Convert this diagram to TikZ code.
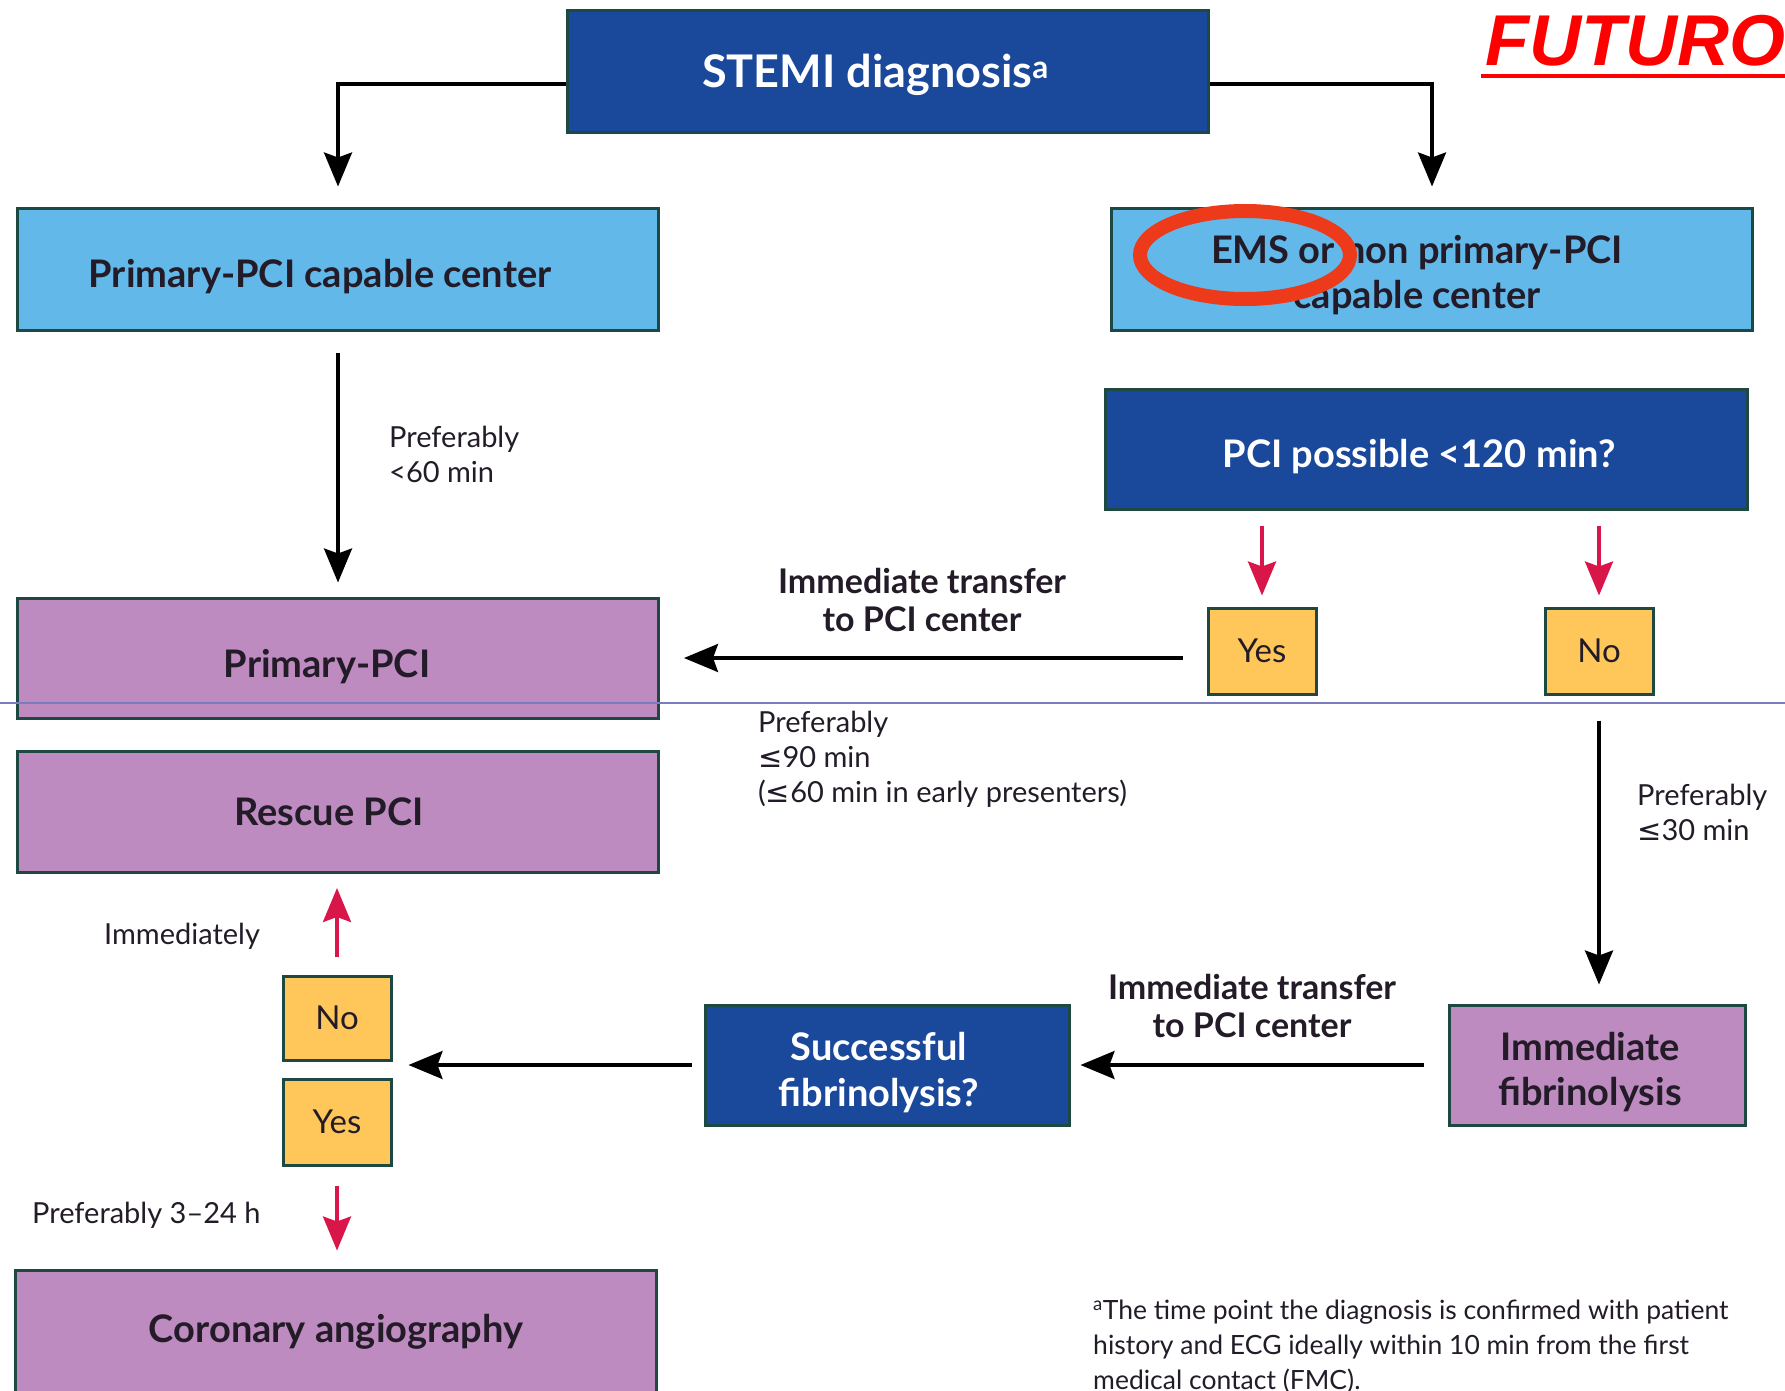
\documentclass[tikz,border=0pt]{standalone}
\usepackage{fontspec}
\setmainfont{Lato}
\newfontfamily\symfont{DejaVu Sans}
\newfontfamily\futfont{Liberation Sans}
\usetikzlibrary{arrows.meta,calc}
\definecolor{dblue}{RGB}{26,72,154}
\definecolor{lblue}{RGB}{98,184,232}
\definecolor{purp}{RGB}{190,139,192}
\definecolor{yel}{RGB}{255,198,90}
\definecolor{bord}{RGB}{30,72,66}
\definecolor{crim}{RGB}{216,22,74}
\definecolor{ellred}{RGB}{236,58,26}
\definecolor{txt}{RGB}{35,28,40}
\definecolor{thinl}{RGB}{123,123,192}
\newcommand{\lee}{{\symfont\char"2264}}
% \sh{extra right space}{lowering}{text}
\newcommand{\sh}[3]{\raisebox{-#2}[\height][\depth]{#3}\hspace*{#1}}
\begin{document}
\begin{tikzpicture}[x=1pt,y=-1pt,
  box/.style={draw=bord,line width=3pt,inner sep=0pt,align=center,text=txt,font=\bfseries\fontsize{38}{45.5}\selectfont},
  dbox/.style={box,fill=dblue,text=white},
  lbox/.style={box,fill=lblue},
  pbox/.style={box,fill=purp},
  ybox/.style={box,fill=yel,font=\fontsize{33}{40}\selectfont,minimum width=108pt,minimum height=86pt},
  arr/.style={line width=3.5pt,-{Stealth[length=34pt,width=28pt,inset=5pt]}},
  rarr/.style={arr,draw=crim},
  lbl/.style={align=left,text=txt,inner sep=0pt,font=\fontsize{29}{35}\selectfont},
  tlbl/.style={align=center,text=txt,inner sep=0pt,font=\bfseries\fontsize{34}{37.5}\selectfont}]
\useasboundingbox (0,0) rectangle (1785,1390);
\clip (0,0) rectangle (1785,1390);
% boxes
\node[dbox,minimum width=641pt,minimum height=122pt,font=\bfseries\fontsize{45}{50}\selectfont] (stemi) at (888,71) {\sh{25pt}{3.5pt}{STEMI diagnosis\textsuperscript{a}}};
\node[lbox,minimum width=641pt,minimum height=122pt] (ppcc) at (338,269) {\sh{36pt}{8pt}{Primary-PCI capable center}};
\node[lbox,minimum width=641pt,minimum height=122pt] (ems) at (1432,269) {\sh{30pt}{6pt}{EMS or non primary-PCI}\\\sh{30pt}{6pt}{capable center}};
\node[dbox,minimum width=642pt,minimum height=120pt] (pcip) at (1426,449) {\sh{14pt}{8pt}{PCI possible <120 min?}};
\node[ybox] (yesR) at (1262,651) {Yes};
\node[ybox] (noR) at (1599,651) {No};
\node[pbox,minimum width=641pt,minimum height=120pt] (ppci) at (338,658) {\sh{22pt}{9pt}{Primary-PCI}};
\node[pbox,minimum width=641pt,minimum height=121pt] (rescue) at (338,812) {\sh{18pt}{0pt}{Rescue PCI}};
\node[ybox,minimum height=84pt] (noL) at (337,1018) {No};
\node[ybox] (yesL) at (337,1122) {Yes};
\node[dbox,minimum width=364pt,minimum height=120pt] (succ) at (887,1065) {\sh{16pt}{7.5pt}{Successful}\\\sh{16pt}{7.5pt}{fibrinolysis?}};
\node[pbox,minimum width=296pt,minimum height=120pt] (immf) at (1597,1065) {\sh{14pt}{7pt}{Immediate}\\\sh{14pt}{7pt}{fibrinolysis}};
\node[pbox,minimum width=641pt,minimum height=130pt] (cor) at (336,1335) {\sh{0pt}{-3.5pt}{Coronary angiography}};
\coordinate (ny) at ($(noL.east)!0.5!(yesL.east)$);
% connectors
\draw[arr] ([yshift=-13pt]stemi.west) -| ([yshift=20pt]ppcc.north);
\draw[arr] ([yshift=-13pt]stemi.east) -| ([yshift=20pt]ems.north);
\draw[arr,shorten <=21pt,shorten >=14pt] (ppcc) -- (ppci);
\draw[rarr,shorten <=15pt,shorten >=11pt] (yesR.north |- pcip.south) -- (yesR.north);
\draw[rarr,shorten <=15pt,shorten >=11pt] (noR.north |- pcip.south) -- (noR.north);
\draw[arr,shorten <=24pt,shorten >=24pt] (yesR.west |- ppci.east) -- (ppci.east);
\draw[arr,shorten <=25pt,shorten >=19pt] (noR.south) -- (noR.south |- immf.north);
\draw[arr,shorten <=24pt,shorten >=10pt] (immf.west) -- (immf.west -| succ.east);
\draw[arr,shorten <=12pt,shorten >=16pt] (succ.west) -- (succ.west -| ny);
\draw[rarr,shorten <=18pt,shorten >=14pt] (noL.north) -- (noL.north |- rescue.south);
\draw[rarr,shorten <=19pt,shorten >=18pt] (yesL.south) -- (yesL.south |- cor.north);
% labels
\node[lbl,anchor=west] (l60) at (389,454) {Preferably\\<60 min};
\node[tlbl] (t1) at (922,600) {Immediate transfer\\to PCI center};
\node[lbl,anchor=west] (l90) at (758,759) {Preferably\\\lee90 min\\(\lee60 min in early presenters)};
\node[lbl,anchor=west] (l30) at (1637,812) {Preferably\\\lee30 min};
\node[tlbl] (t2) at (1252,1006) {Immediate transfer\\to PCI center};
\node[lbl,anchor=west] (limm) at (104,936) {Immediately};
\node[lbl,anchor=west] (l324) at (32,1215) {Preferably 3--24 h};
\node[lbl,anchor=west,font=\fontsize{26.5}{35}\selectfont] (foot) at (1093,1347) {\textsuperscript{a}The time point the diagnosis is confirmed with patient\\history and ECG ideally within 10 min from the first\\medical contact (FMC).};
% annotation overlays
\draw[thinl,line width=1.5pt] (0,703) -- (1785,703);
\draw[ellred,line width=14pt] (1245,255) ellipse [x radius=105pt,y radius=44pt];
\node[anchor=base west,inner sep=0pt,text=red,font=\futfont\bfseries\itshape\fontsize{72}{80}\selectfont] (futuro) at (1485,65) {FUTURO};
\draw[red,line width=4pt] (1481,76) -- (1785,76);
\end{tikzpicture}
\end{document}
